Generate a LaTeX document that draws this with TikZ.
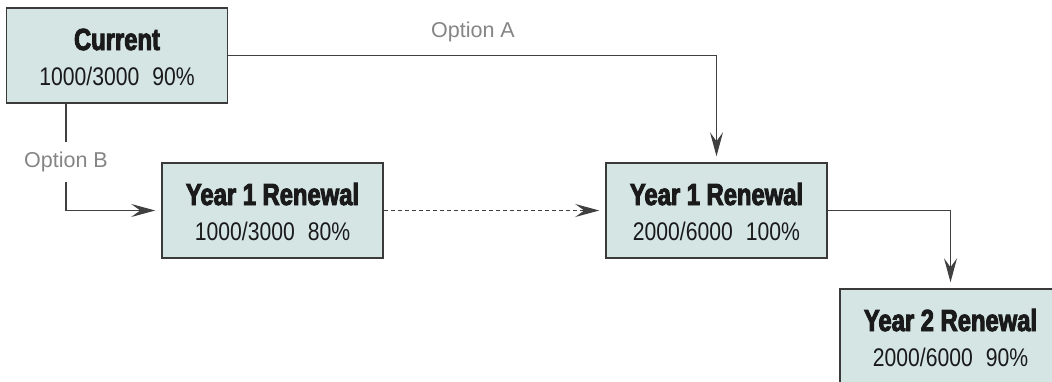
\documentclass[tikz,border=0pt]{standalone}
\usepackage{fontspec}
\newfontfamily\numf[FakeStretch=0.83]{Liberation Sans}
\newfontfamily\optf{Liberation Sans}
\newfontfamily\ttlf[FakeStretch=0.78,FakeBold=3]{Liberation Sans}
\usetikzlibrary{arrows.meta}
\definecolor{boxfill}{HTML}{D4E5E4}
\definecolor{boxline}{HTML}{3A3A3A}
\definecolor{connline}{HTML}{404040}
\definecolor{optgray}{HTML}{858585}
\definecolor{ink}{HTML}{1A1A1A}
\begin{document}
\begin{tikzpicture}[x=1pt,y=-1pt,
  box/.style={draw=boxline, line width=1.5pt, fill=boxfill,
    minimum width=221pt, minimum height=95pt, inner sep=0pt},
  ttl/.style={anchor=base, inner sep=0pt, text=ink,
    font=\ttlf\bfseries\fontsize{30.5}{34}\selectfont},
  nums/.style={anchor=base, inner sep=0pt, text=ink,
    font=\numf\fontsize{25.5}{30}\selectfont},
  opt/.style={inner sep=0pt, minimum height=40pt, text=optgray,
    font=\optf\fontsize{21.5}{25}\selectfont},
  conn/.style={draw=connline, line width=1.1pt},
  arr/.style={-{Stealth[length=24pt,width=13pt,inset=9pt]}, shorten >=6pt}
]
\useasboundingbox (0,0) rectangle (1052,381);

% boxes
\node[box] (cur) at (117,55.5) {};
\node[box] (yb) at (272.5,210.5) {};
\node[box] (ya) at (716.5,210.5) {};
\node[box] (yc) at (950.5,336.5) {};

% texts
\node[ttl] (curT) at ([yshift=5.5pt]cur.center) {Current};
\node[nums] (curN) at ([yshift=-29.5pt]cur.center) {1000/3000\hskip13pt 90\%};
\node[ttl] (ybT) at ([yshift=5.5pt]yb.center) {Year 1 Renewal};
\node[nums] (ybN) at ([yshift=-29.5pt]yb.center) {1000/3000\hskip13pt 80\%};
\node[ttl] (yaT) at ([yshift=5.5pt]ya.center) {Year 1 Renewal};
\node[nums] (yaN) at ([yshift=-29.5pt]ya.center) {2000/6000\hskip13pt 100\%};
\node[ttl] (ycT) at ([yshift=5.5pt]yc.center) {Year 2 Renewal};
\node[nums] (ycN) at ([yshift=-29.5pt]yc.center) {2000/6000\hskip13pt 90\%};

% option labels
\node[opt] (optA) at (473,32) {Option A};
\node[opt] (optB) at (66,162) {Option B};
\coordinate (bstart) at (66,103);

% connectors
\draw[conn, arr] (cur.east) -| (ya.north);
\draw[conn] (bstart) -- (optB.north);
\draw[conn, arr] (optB.south) |- (yb.west);
\draw[conn, arr, dash pattern=on 4pt off 3pt] (yb.east) -- (ya.west);
\draw[conn, arr] (ya.east) -| (yc.north);
\end{tikzpicture}
\end{document}
